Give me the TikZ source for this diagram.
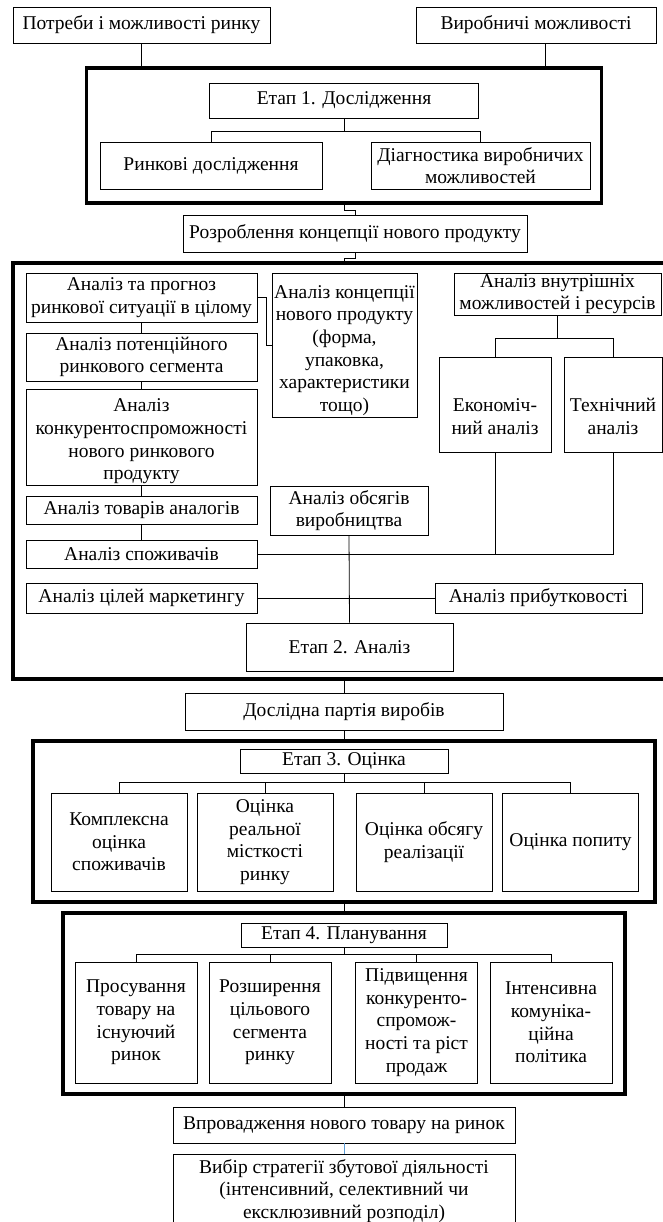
\documentclass[tikz,border=0pt]{standalone}
\usepackage{fontspec}
\setmainfont{Liberation Serif}
\definecolor{linkblue}{RGB}{91,155,213}
\begin{document}
\begin{tikzpicture}[x=1pt, y=-1pt, line width=0.8pt,
  box/.style={draw, align=center, inner sep=1pt, font=\fontsize{19.5}{22.7}\selectfont},
  frame/.style={draw, line width=3.5pt}]
\useasboundingbox (0,0) rectangle (662,1222);

\node[box, minimum width=257pt, minimum height=36pt] (potreby) at (141.5,25) {Потреби і можливості ринку};
\node[box, minimum width=240pt, minimum height=36pt] (vyrobn) at (536,25) {Виробничі можливості};

\node[frame, minimum width=515pt, minimum height=135pt] (etap1frame) at (344,135.5) {};
\node[box, minimum width=269pt, minimum height=35pt] (etap1) at (344,100.5) {Етап 1. Дослідження};
\node[box, minimum width=222pt, minimum height=47pt] (rynkovi) at (211,165.5) {Ринкові дослідження};
\node[box, minimum width=219pt, minimum height=47pt] (diagn) at (480.5,165.5) {Діагностика виробничих\\можливостей};
\node[box, minimum width=344pt, minimum height=37pt] (rozrobl) at (355,233.5) {Розроблення концепції нового продукту};

\draw (potreby.south) -- (potreby.south |- etap1frame.north);
\draw ([xshift=9pt]vyrobn.south) -- ([xshift=9pt]vyrobn.south |- etap1frame.north);
\draw (etap1.south) -- ++(0,13) coordinate (e1);
\draw (rynkovi.north) |- (e1) -| (diagn.north);
\draw (etap1frame.south) -- ++(0,6) -| (rozrobl.north);

\node[frame, minimum width=662pt, minimum height=416pt] (etap2frame) at (344,471) {};
\node[box, minimum width=231pt, minimum height=49pt] (prognoz) at (141.5,297.5) {Аналіз та прогноз\\ринкової ситуації в цілому};
\node[box, inner ysep=0pt, minimum width=145pt, minimum height=144pt] (koncep) at (344.5,345) {\rule{0pt}{24pt}Аналіз концепції\\нового продукту\\(форма,\\упаковка,\\характеристики\\тощо)};
\node[box, minimum width=231pt, minimum height=48pt] (potenc) at (141.5,357) {Аналіз потенційного\\ринкового сегмента};
\node[box, minimum width=231pt, minimum height=91pt] (konkur) at (141.5,437.5) {\rule{0pt}{21pt}Аналіз\\конкурентоспроможності\\нового ринкового\\продукту};
\node[box, minimum width=231pt, minimum height=28pt] (analogy) at (141.5,510) {Аналіз товарів аналогів};
\node[box, minimum width=231pt, minimum height=28pt] (spozhyv) at (141.5,554) {Аналіз споживачів};
\node[box, minimum width=231pt, minimum height=30pt] (tsili) at (141.5,598) {Аналіз цілей маркетингу};
\node[box, minimum width=207pt, minimum height=42pt] (vnutr) at (557.5,294) {Аналіз внутрішніх\\можливостей і ресурсів};
\node[box, minimum width=112pt, minimum height=95pt] (ekonom) at (495,404.5) {\rule{0pt}{37.5pt}Економіч-\\ний аналіз};
\node[box, minimum width=98pt, minimum height=95pt] (tekhn) at (613,404.5) {\rule{0pt}{37.5pt}Технічний\\аналіз};
\node[box, minimum width=158pt, minimum height=49pt] (obsyagy) at (349,510.5) {Аналіз обсягів\\виробництва};
\node[box, minimum width=207pt, minimum height=30pt] (prybut) at (538.5,598) {Аналіз прибутковості};
\node[box, minimum width=207pt, minimum height=48pt] (etap2) at (349.5,647) {Етап 2. Аналіз};

\draw (rozrobl.south) -- ++(0,6) -| (etap2frame.north);
\draw (prognoz.east) -- ++(9,0) |- (koncep.west);
\draw (prognoz.south) -- (potenc.north);
\draw (potenc.south) -- (konkur.north);
\draw (konkur.south) -- (analogy.north);
\draw (analogy.south) -- (spozhyv.north);
\draw (vnutr.south) -- ++(0,23) coordinate (vn);
\draw (ekonom.north) |- (vn) -| (tekhn.north);
\draw (spozhyv.east) -| (tekhn.south);
\draw (ekonom.south) -- (ekonom.south |- spozhyv.east);
\draw (tsili.east) -- (prybut.west);
\draw (obsyagy.south) -- (etap2.north);

\node[box, minimum width=318pt, minimum height=37pt] (partiya) at (344,711.5) {Дослідна партія виробів};
\node[frame, minimum width=622pt, minimum height=161pt] (etap3frame) at (344,821.5) {};
\node[box, minimum width=208pt, minimum height=24pt] (etap3) at (344,761) {Етап 3. Оцінка};
\node[box, minimum width=136pt, minimum height=98pt] (kompleks) at (119,842) {Комплексна\\оцінка\\споживачів};
\node[box, minimum width=136pt, minimum height=98pt] (mistkist) at (265,842) {Оцінка\\реальної\\місткості\\ринку};
\node[box, minimum width=136pt, minimum height=98pt] (realiz) at (424,842) {Оцінка обсягу\\реалізації};
\node[box, minimum width=136pt, minimum height=98pt] (popyt) at (570.5,842) {Оцінка попиту};

\draw (etap2frame.south) -- (partiya.north);
\draw (partiya.south) -- (etap3frame.north);
\draw (etap3.south) -- ++(0,9) coordinate (e3);
\draw (kompleks.north) |- (e3) -| (popyt.north);
\draw (mistkist.north) -- (mistkist.north |- e3);
\draw (realiz.north) -- (realiz.north |- e3);

\node[frame, minimum width=562pt, minimum height=181pt] (etap4frame) at (344,1003.5) {};
\node[box, minimum width=206pt, minimum height=24pt] (etap4) at (344,935) {Етап 4. Планування};
\node[box, minimum width=122pt, minimum height=121pt] (prosuv) at (136,1022.5) {Просування\\товару на\\існуючий\\ринок};
\node[box, minimum width=122pt, minimum height=121pt] (rozshyr) at (270,1022.5) {Розширення\\цільового\\сегмента\\ринку};
\node[box, minimum width=122pt, minimum height=121pt] (pidvysh) at (416.5,1022.5) {Підвищення\\конкуренто-\\спромож-\\ності та ріст\\продаж};
\node[box, minimum width=122pt, minimum height=121pt] (intens) at (551,1022.5) {Інтенсивна\\комуніка-\\ційна\\політика};

\draw (etap3frame.south) -- (etap4frame.north);
\draw (etap4.south) -- ++(0,7) coordinate (e4);
\draw (prosuv.north) |- (e4) -| (intens.north);
\draw (rozshyr.north) -- (rozshyr.north |- e4);
\draw (pidvysh.north) -- (pidvysh.north |- e4);

\node[box, minimum width=342pt, minimum height=36pt] (vprovadzh) at (344,1125) {Впровадження нового товару на ринок};
\node[box, minimum width=342pt, minimum height=74pt] (vybir) at (344,1191) {Вибір стратегії збутової діяльності\\(інтенсивний, селективний чи\\ексклюзивний розподіл)};

\draw (etap4frame.south) -- (vprovadzh.north);
\draw[linkblue] (vprovadzh.south) -- (vybir.north);
\end{tikzpicture}
\end{document}
